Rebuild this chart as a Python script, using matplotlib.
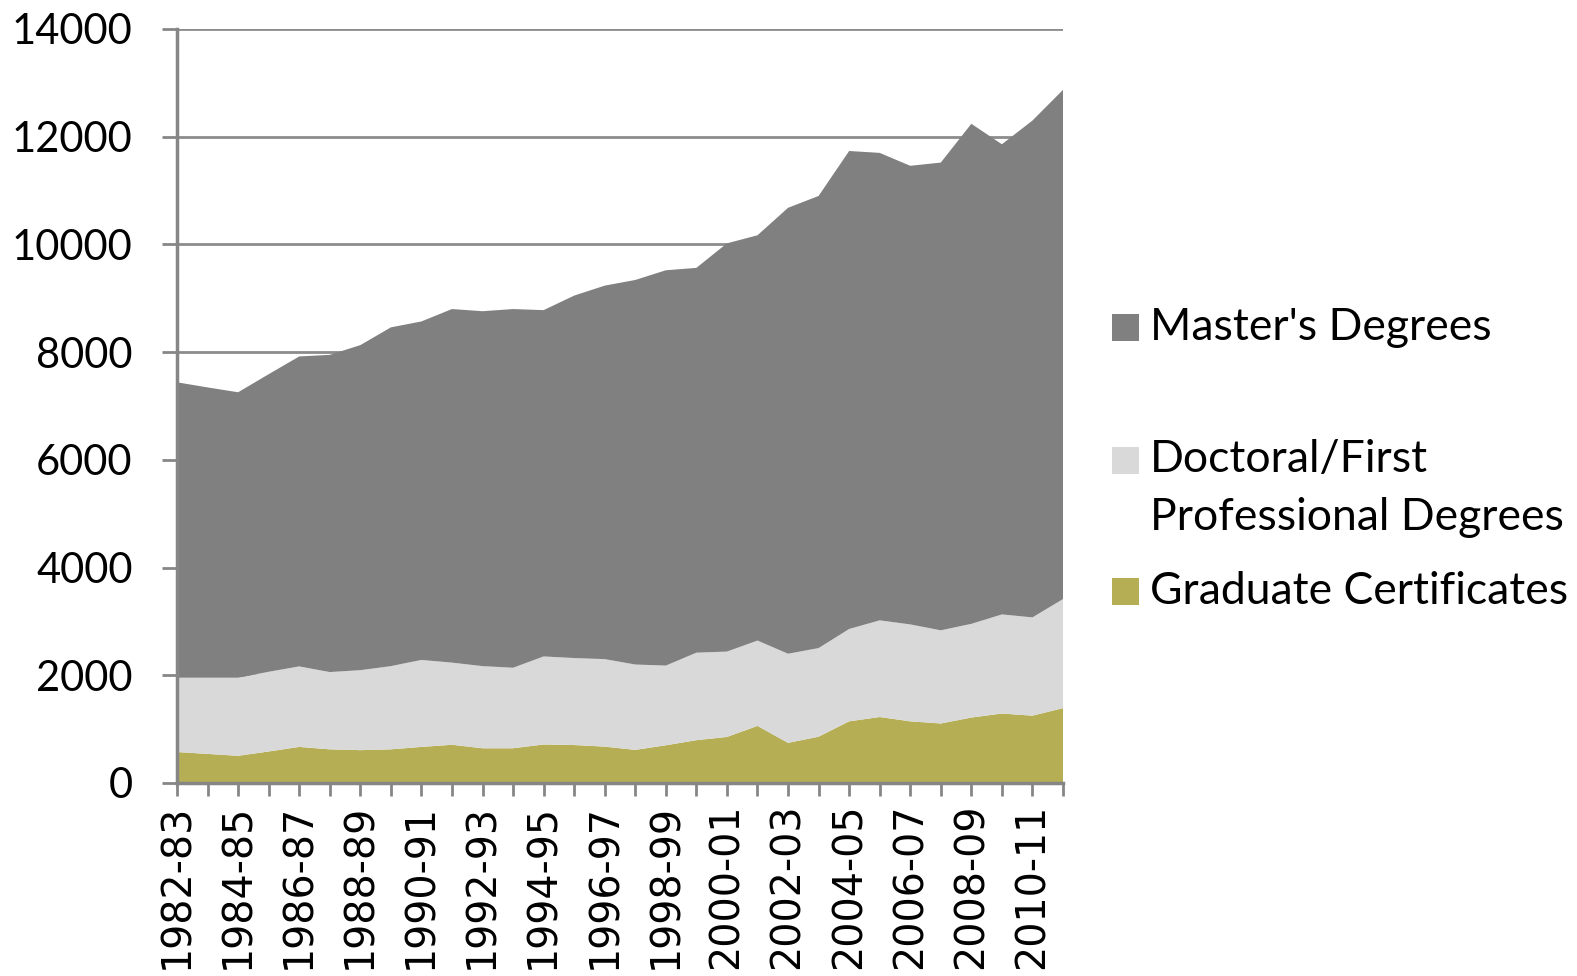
import matplotlib
matplotlib.use("Agg")
import matplotlib.pyplot as plt
from matplotlib.patches import Rectangle
import numpy as np

years = ["1982-83", "1983-84", "1984-85", "1985-86", "1986-87", "1987-88", "1988-89", "1989-90",
         "1990-91", "1991-92", "1992-93", "1993-94", "1994-95", "1995-96", "1996-97", "1997-98",
         "1998-99", "1999-00", "2000-01", "2001-02", "2002-03", "2003-04", "2004-05", "2005-06",
         "2006-07", "2007-08", "2008-09", "2009-10", "2010-11", "2011-12"]

graduate_certificates = [575, 540, 505, 585, 670, 625, 610, 625, 670, 710, 645, 645, 715, 705, 675,
                         615, 700, 795, 855, 1060, 745, 860, 1145, 1225, 1145, 1105, 1215, 1290, 1250, 1390]
doctoral_first_prof = [1380, 1415, 1450, 1480, 1495, 1435, 1485, 1545, 1615, 1525, 1525, 1495, 1635, 1615, 1625,
                       1585, 1480, 1625, 1585, 1585, 1655, 1645, 1715, 1795, 1800, 1730, 1740, 1840, 1825, 2025]
masters_degrees = [5485, 5390, 5300, 5525, 5755, 5890, 6035, 6290, 6285, 6565, 6590, 6660, 6430, 6730, 6935,
                   7140, 7340, 7145, 7580, 7525, 8280, 8395, 8875, 8680, 8515, 8685, 9285, 8730, 9225, 9455]

colors = ["#B5AE54", "#D9D9D9", "#808080"]
yticks = [0, 2000, 4000, 6000, 8000, 10000, 12000, 14000]

W, H = 1577, 976
fig = plt.figure(figsize=(W / 100, H / 100), dpi=100)
L, R, T, B = 177, 1063, 29, 783
ax = fig.add_axes([L / W, 1 - B / H, (R - L) / W, (B - T) / H])

x = np.arange(len(years))
ax.stackplot(x, graduate_certificates, doctoral_first_prof, masters_degrees,
             colors=colors, linewidth=0, zorder=3)

ax.set_xlim(0, len(years) - 1)
ax.set_ylim(0, 14000)
ax.set_yticks(yticks)
ax.set_yticklabels([str(v) for v in yticks], fontname="Lato", fontsize=30)
ax.yaxis.grid(True, color="#8C8C8C", linewidth=2, zorder=0)
ax.set_axisbelow(True)

ax.set_xticks(x)
ax.set_xticklabels([y if i % 2 == 0 else "" for i, y in enumerate(years)],
                   rotation=90, fontname="DejaVu Sans", fontsize=28.5, va="top", ha="center")

for s in ["top", "right"]:
    ax.spines[s].set_visible(False)
for s in ["left", "bottom"]:
    ax.spines[s].set_color("#868686")
    ax.spines[s].set_linewidth(2.5)
    ax.spines[s].set_zorder(4)
ax.tick_params(axis="y", length=11, width=2, color="#868686", pad=21)
ax.tick_params(axis="x", length=9, width=2, color="#868686", pad=6)

# legend (manual, Excel-style layout)
def fx(px):
    return px / W

def fy(py):
    return 1 - py / H

sq = 27
legend_items = [("Master's Degrees", colors[2], 327, 327),
                ("Doctoral/First", colors[1], 460, 460),
                ("Professional Degrees", None, None, 518),
                ("Graduate Certificates", colors[0], 591, 591)]
for text, col, cy, ty in legend_items:
    if col is not None:
        fig.patches.append(Rectangle((fx(1112), fy(cy + sq / 2)), sq / W, sq / H,
                                     transform=fig.transFigure, facecolor=col, edgecolor="none"))
    fig.text(fx(1150), fy(ty), text, fontname="Lato", fontsize=32, va="center", ha="left")

fig.savefig("out.png", dpi=100, facecolor="white")
